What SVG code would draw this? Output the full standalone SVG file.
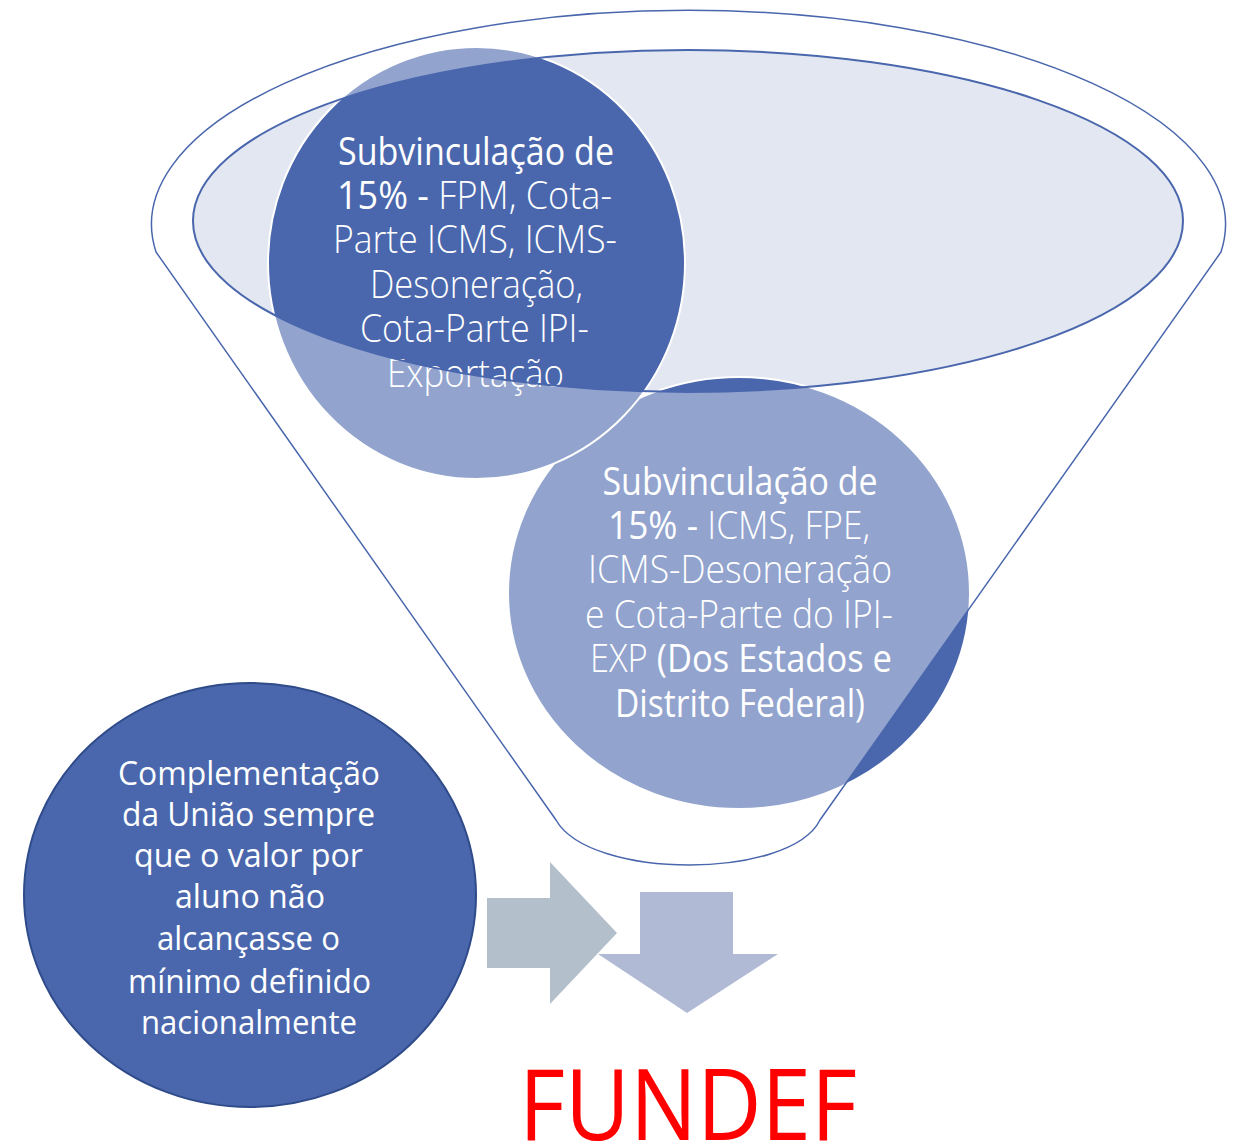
<svg xmlns="http://www.w3.org/2000/svg" width="1241" height="1144" viewBox="0 0 1241 1144">
<style>
.t{font-family:"Open Sans","Noto Sans","Liberation Sans",sans-serif;fill:#ffffff;text-anchor:middle;}
.c{font-size:38px;}
.r{font-weight:400;}
.l{font-weight:300;}
.b{font-size:33px;font-weight:400;}
.node{fill:#4a67ad;stroke:#ffffff;stroke-width:2;}
.line{fill:none;stroke:#4a67ad;}
</style>
<rect width="1241" height="1144" fill="#ffffff"/>
<g id="funnel-top-fill">
<ellipse cx="688" cy="221" rx="495" ry="171" fill="#e3e7f1"/>
</g>
<g id="node-estados">
<ellipse class="node" cx="739" cy="593" rx="231" ry="216"/>
<text class="t c" x="740" y="495" textLength="275" lengthAdjust="spacingAndGlyphs"><tspan class="r">Subvinculação de</tspan></text>
<text class="t c" x="739" y="539" textLength="262" lengthAdjust="spacingAndGlyphs"><tspan class="r">15% - </tspan><tspan class="l">ICMS, FPE,</tspan></text>
<text class="t c l" x="740" y="583" textLength="304" lengthAdjust="spacingAndGlyphs">ICMS-Desoneração</text>
<text class="t c l" x="739" y="628" textLength="308" lengthAdjust="spacingAndGlyphs">e Cota-Parte do IPI-</text>
<text class="t c" x="741" y="672" textLength="302" lengthAdjust="spacingAndGlyphs"><tspan class="l">EXP </tspan><tspan class="r">(Dos Estados e</tspan></text>
<text class="t c r" x="740" y="717" textLength="250" lengthAdjust="spacingAndGlyphs">Distrito Federal)</text>
</g>
<g id="node-municipios">
<ellipse class="node" cx="476.5" cy="263" rx="208.5" ry="216"/>
<text class="t c r" x="476" y="165" textLength="276" lengthAdjust="spacingAndGlyphs">Subvinculação de</text>
<text class="t c" x="474.5" y="209" textLength="275" lengthAdjust="spacingAndGlyphs"><tspan class="r">15% - </tspan><tspan class="l">FPM, Cota-</tspan></text>
<text class="t c l" x="475" y="253" textLength="284" lengthAdjust="spacingAndGlyphs">Parte ICMS, ICMS-</text>
<text class="t c l" x="476.5" y="298" textLength="213" lengthAdjust="spacingAndGlyphs">Desoneração,</text>
<text class="t c l" x="474.5" y="342" textLength="229" lengthAdjust="spacingAndGlyphs">Cota-Parte IPI-</text>
<text class="t c l" x="475.5" y="387" textLength="177" lengthAdjust="spacingAndGlyphs">Exportação</text>
</g>
<g id="funnel">
<path d="M156,252 A537,214 0 1 1 1221,252 L820,820 C790,880 590,880 556,820 Z M193,221 A495,171 0 1 0 1183,221 A495,171 0 1 0 193,221 Z" fill="#ffffff" fill-opacity="0.4" fill-rule="evenodd"/>
<path class="line" stroke-width="1.5" d="M156,252 A537,214 0 1 1 1221,252 L820,820 C790,880 590,880 556,820 Z"/>
<ellipse class="line" stroke-width="2" cx="688" cy="221" rx="495" ry="171"/>
</g>
<g id="node-uniao">
<ellipse cx="250" cy="895" rx="226" ry="212" fill="#4a67ad" stroke="#2f4b8a" stroke-width="2"/>
<text class="t b" x="249" y="785" textLength="262" lengthAdjust="spacingAndGlyphs">Complementação</text>
<text class="t b" x="248.5" y="826" textLength="253" lengthAdjust="spacingAndGlyphs">da União sempre</text>
<text class="t b" x="248.5" y="867" textLength="229" lengthAdjust="spacingAndGlyphs">que o valor por</text>
<text class="t b" x="250" y="908" textLength="150" lengthAdjust="spacingAndGlyphs">aluno não</text>
<text class="t b" x="248.5" y="950" textLength="183" lengthAdjust="spacingAndGlyphs">alcançasse o</text>
<text class="t b" x="249.5" y="993" textLength="243" lengthAdjust="spacingAndGlyphs">mínimo definido</text>
<text class="t b" x="249" y="1034" textLength="216" lengthAdjust="spacingAndGlyphs">nacionalmente</text>
</g>
<g id="connectors">
<polygon points="487,898 550,898 550,862 617,933 550,1004 550,968 487,968" fill="#b4bfcc"/>
<polygon points="640,892 733,892 733,954 778,954 687,1013 598,954 640,954" fill="#b1bad4"/>
</g>
<g id="node-fundef">
<text x="688" y="1140" font-family="Open Sans, Noto Sans, Liberation Sans, sans-serif" font-size="99" fill="#ff0000" text-anchor="middle" textLength="338" lengthAdjust="spacingAndGlyphs">FUNDEF</text>
</g>
</svg>
